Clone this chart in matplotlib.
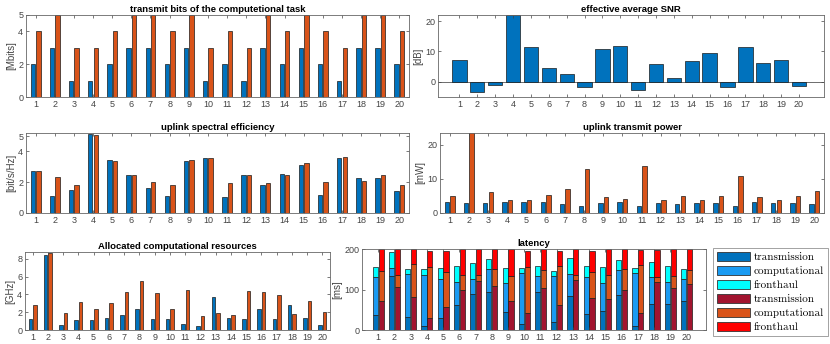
import numpy as np
import matplotlib.pyplot as plt
from matplotlib.patches import Patch

plt.rcParams['font.family'] = ['Liberation Sans', 'DejaVu Sans']

users = np.arange(1, 21)

# transmit bits [Mbits]
bits_a = [2, 3, 1, 1, 2, 3, 3, 2, 3, 1, 2, 1, 3, 2, 3, 2, 1, 3, 3, 2]
bits_b = [4, 5, 3, 3, 4, 5, 5, 4, 5, 3, 4, 3, 5, 4, 5, 4, 3, 5, 5, 4]

# effective average SNR [dB]
snr = [7.1, -3.4, -1.0, 21.9, 11.3, 4.6, 2.7, -1.6, 10.9, 11.8,
       -2.8, 5.8, 1.4, 6.7, 9.6, -1.7, 11.3, 6.1, 7.1, -1.5]

# uplink spectral efficiency [bit/s/Hz]
se_a = [2.7, 1.1, 1.5, 5.15, 3.45, 2.45, 1.65, 1.1, 3.4, 3.55,
        1.05, 2.5, 1.8, 2.55, 3.15, 1.15, 3.55, 2.3, 2.3, 1.4]
se_b = [2.75, 2.35, 1.8, 5.1, 3.4, 2.5, 2.0, 1.8, 3.45, 3.55,
        1.95, 2.45, 1.95, 2.45, 3.25, 2.0, 3.65, 2.1, 2.45, 1.8]

# uplink transmit power [mW]
pw_a = [3.1, 2.8, 2.8, 3.3, 3.1, 3.2, 2.5, 2.2, 3.0, 3.3,
        2.2, 3.0, 2.7, 3.0, 2.8, 2.1, 3.2, 2.8, 2.8, 2.7]
pw_b = [4.9, 24.0, 6.3, 3.8, 3.8, 5.4, 7.0, 13.0, 4.7, 4.1,
        13.7, 3.8, 5.1, 3.8, 5.1, 11.0, 4.6, 3.7, 5.1, 6.4]

# allocated computational resources [GHz]
cpu_a = [1.2, 8.45, 0.55, 1.1, 1.15, 1.3, 1.65, 2.4, 1.2, 1.2,
         0.7, 0.5, 3.75, 1.3, 1.2, 2.3, 1.2, 2.85, 1.35, 0.55]
cpu_b = [2.75, 8.6, 1.95, 3.15, 2.4, 3.0, 4.3, 5.5, 4.15, 2.35,
         4.5, 1.6, 1.9, 1.65, 4.4, 4.3, 3.95, 1.75, 3.2, 2.0]

# latency [ms], stacked parts
lat_tx_a = [36, 133, 32, 10, 29, 61, 90, 93, 44, 15, 95, 20, 84, 39, 48, 86, 10, 63, 63, 72]
lat_comp_a = [94, 20, 106, 127, 98, 58, 37, 57, 71, 125, 38, 113, 55, 92, 67, 61, 130, 67, 56, 54]
lat_fh_a = [26, 39, 13, 14, 26, 39, 38, 25, 38, 12, 26, 13, 38, 26, 40, 26, 12, 39, 38, 25]
lat_tx_b = [71, 105, 81, 29, 58, 98, 122, 109, 72, 41, 103, 61, 123, 80, 76, 99, 41, 118, 103, 113]
lat_comp_b = [75, 32, 81, 127, 85, 37, 15, 41, 61, 115, 45, 97, 13, 63, 59, 51, 119, 14, 31, 35]
lat_fh_b = [53, 63, 38, 39, 52, 65, 63, 50, 67, 39, 52, 38, 64, 52, 65, 50, 37, 65, 66, 52]

legend_labels = ['transmission', 'computational', 'fronthaul',
                 'transmission', 'computational', 'fronthaul']

BLUE = '#0072BD'
ORANGE = '#D95319'
LBLUE = '#1A9BF2'
CYAN = '#00FFFF'
DRED = '#A2142F'
RED = '#FF0000'
EDGE = '#1a1a1a'

W, H = 830, 344
fig = plt.figure(figsize=(8.3, 3.44), dpi=100)


def axes_px(x0, y0, x1, y1):
    return fig.add_axes([x0 / W, 1 - y1 / H, (x1 - x0) / W, (y1 - y0) / H])


def style(ax, title, ylabel):
    ax.set_title(title, fontsize=6.8, fontweight='bold', pad=2.5)
    ax.set_ylabel(ylabel, fontsize=7, color='#444444', labelpad=1.5)
    ax.tick_params(direction='in', length=2, width=0.5, labelsize=6.5,
                   colors='#444444', top=True, right=True, pad=2)
    ax.set_xticks(users)
    for s in ax.spines.values():
        s.set_color('#666666')
        s.set_linewidth(0.6)


def grouped(ax, a, b):
    ax.bar(users - 0.143, a, 0.229, color=BLUE, edgecolor=EDGE, linewidth=0.5)
    ax.bar(users + 0.143, b, 0.229, color=ORANGE, edgecolor=EDGE, linewidth=0.5)
    ax.set_xlim(0.5, 20.5)


# transmit bits
ax1 = axes_px(26, 15, 409, 97)
grouped(ax1, bits_a, bits_b)
ax1.set_ylim(0, 5)
ax1.set_yticks([0, 2, 4, 5])
style(ax1, 'transmit bits of the computetional task', '[Mbits]')

# SNR
ax2 = axes_px(438, 15, 824, 97)
ax2.bar(users, snr, 0.8, color=BLUE, edgecolor=EDGE, linewidth=0.5)
ax2.axhline(0, color='#555555', linewidth=0.6, zorder=0)
ax2.set_xlim(-0.2, 21.4)
ax2.set_ylim(-5, 22)
ax2.set_yticks([0, 10, 20])
style(ax2, 'effective average SNR', '[dB]')

# spectral efficiency
ax3 = axes_px(26, 133, 409, 213)
grouped(ax3, se_a, se_b)
ax3.set_ylim(0, 5.2)
ax3.set_yticks([0, 2, 4, 5])
style(ax3, 'uplink spectral efficiency', '[bit/s/Hz]')

# transmit power
ax4 = axes_px(440, 133, 824, 213)
grouped(ax4, pw_a, pw_b)
ax4.set_ylim(0, 23.5)
ax4.set_yticks([0, 10, 20])
style(ax4, 'uplink transmit power', '[mW]')

# computational resources
ax5 = axes_px(25, 252, 330, 330)
grouped(ax5, cpu_a, cpu_b)
ax5.set_ylim(0, 8.75)
ax5.set_yticks([0, 2, 4, 6, 8])
style(ax5, 'Allocated computational resources', '[GHz]')

# latency
ax6 = axes_px(362, 249, 706, 330)
xa = users - 0.18
xb = users + 0.18
bw = 0.32
ax6.bar(xa, lat_tx_a, bw, color=BLUE, edgecolor=EDGE, linewidth=0.5)
ax6.bar(xa, lat_comp_a, bw, bottom=lat_tx_a, color=LBLUE, edgecolor=EDGE, linewidth=0.5)
ax6.bar(xa, lat_fh_a, bw, bottom=np.add(lat_tx_a, lat_comp_a), color=CYAN,
        edgecolor=EDGE, linewidth=0.5)
ax6.bar(xb, lat_tx_b, bw, color=DRED, edgecolor=EDGE, linewidth=0.5)
ax6.bar(xb, lat_comp_b, bw, bottom=lat_tx_b, color=ORANGE, edgecolor=EDGE, linewidth=0.5)
ax6.bar(xb, lat_fh_b, bw, bottom=np.add(lat_tx_b, lat_comp_b), color=RED,
        edgecolor=EDGE, linewidth=0.5)
ax6.set_xlim(0, 21.2)
ax6.set_ylim(0, 200)
ax6.set_yticks([0, 100, 200])
style(ax6, 'latency', '[ms]')

handles = [Patch(facecolor=c, edgecolor='#333333', linewidth=0.6)
           for c in [BLUE, LBLUE, CYAN, DRED, ORANGE, RED]]
leg = fig.legend(handles, legend_labels, loc='upper left',
                 bbox_to_anchor=(713 / W, 1 - 248 / H), borderaxespad=0,
                 prop={'family': 'cmr10', 'size': 8}, fancybox=False,
                 edgecolor='#777777', handlelength=3.0, handleheight=0.9,
                 labelspacing=0.32, borderpad=0.35, handletextpad=0.3)
leg.get_frame().set_linewidth(0.6)

fig.savefig('out.png', dpi=100)
